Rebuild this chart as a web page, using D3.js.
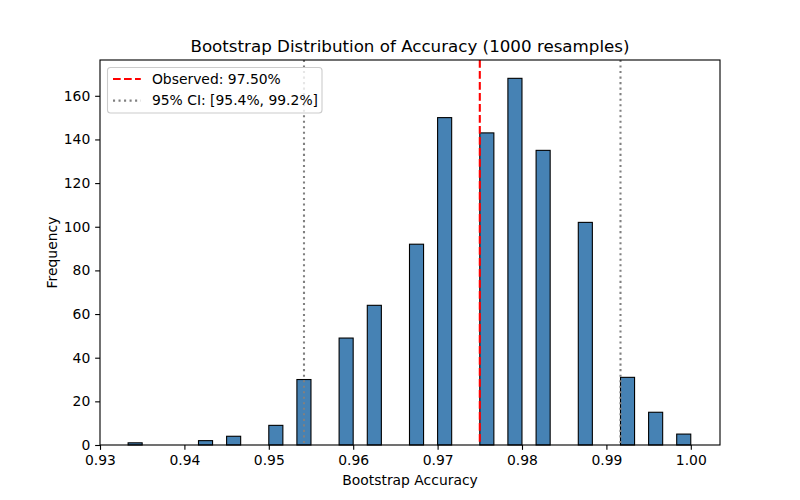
<!DOCTYPE html>
<html>
<head>
<meta charset="utf-8">
<script src="https://cdn.jsdelivr.net/npm/d3@7"></script>
<style>
  body { margin: 0; background: #fff; }
  text { font-family: "DejaVu Sans", sans-serif; fill: #000; }
</style>
</head>
<body>
<svg id="chart" width="800" height="500"></svg>
<script>
"use strict";

// histogram bins: left edge of each non-empty bin and its count
var binStarts = [0.93333, 0.94167, 0.94500, 0.95000, 0.95333, 0.95833, 0.96167, 0.96667,
  0.97000, 0.97500, 0.97833, 0.98167, 0.98667, 0.99167, 0.99500, 0.99833]
var binCounts = [1, 2, 4, 9, 30, 49, 64, 92, 150, 143, 168, 135, 102, 31, 15, 5]
var binWidth = 0.0016667

var observed = 0.975
var ciBounds = [0.95417, 0.99167]

var xTicks = [0.93, 0.94, 0.95, 0.96, 0.97, 0.98, 0.99, 1.00]
var yTicks = [0, 20, 40, 60, 80, 100, 120, 140, 160]

var legendLabels = ["Observed: 97.50%", "95% CI: [95.4%, 99.2%]"]

var svg = d3.select("#chart")
var margin = {left: 100, right: 80, top: 60, bottom: 55}
var width = 800 - margin.left - margin.right
var height = 500 - margin.top - margin.bottom

var x = d3.scaleLinear().domain([0.93, 1.00346]).range([0, width])
var y = d3.scaleLinear().domain([0, 176.4]).range([height, 0])

var g = svg.append("g")
  .attr("transform", "translate(" + margin.left + "," + margin.top + ")")

// bars
g.selectAll("rect.bar")
  .data(binStarts)
  .enter()
  .append("rect")
    .attr("class", "bar")
    .attr("x", function(d) { return x(d) })
    .attr("width", function(d) { return x(d + binWidth) - x(d) })
    .attr("y", function(d, i) { return y(binCounts[i]) })
    .attr("height", function(d, i) { return y(0) - y(binCounts[i]) })
    .style("fill", "#4682b4")
    .style("stroke", "#000")
    .style("stroke-width", 1.1)

// reference lines
g.append("line")
  .attr("x1", x(observed)).attr("x2", x(observed))
  .attr("y1", 0).attr("y2", height)
  .style("stroke", "red")
  .style("stroke-width", 2.08)
  .style("stroke-dasharray", "7.7,3.3")

g.selectAll("line.ci")
  .data(ciBounds)
  .enter()
  .append("line")
    .attr("class", "ci")
    .attr("x1", function(d) { return x(d) })
    .attr("x2", function(d) { return x(d) })
    .attr("y1", 0).attr("y2", height)
    .style("stroke", "gray")
    .style("stroke-width", 2.08)
    .style("stroke-dasharray", "2.08,3.44")

// axes
var xAxis = g.append("g")
  .attr("transform", "translate(0," + height + ")")
  .call(d3.axisBottom(x).tickValues(xTicks).tickFormat(d3.format(".2f"))
    .tickSize(4.86).tickPadding(4.86).tickSizeOuter(0))
var yAxis = g.append("g")
  .call(d3.axisLeft(y).tickValues(yTicks).tickSize(4.86).tickPadding(4.86).tickSizeOuter(0))

svg.selectAll(".tick text").style("font-size", "13.9px").style("font-family", "DejaVu Sans")
svg.selectAll(".tick line").style("stroke-width", 1.11)
svg.selectAll(".domain").remove()

// frame
g.append("rect")
  .attr("width", width).attr("height", height)
  .style("fill", "none")
  .style("stroke", "#000")
  .style("stroke-width", 1.11)

// labels
svg.append("text")
  .attr("x", margin.left + width / 2).attr("y", 52)
  .attr("text-anchor", "middle")
  .style("font-size", "16.7px")
  .text("Bootstrap Distribution of Accuracy (1000 resamples)")

svg.append("text")
  .attr("x", margin.left + width / 2).attr("y", 485)
  .attr("text-anchor", "middle")
  .style("font-size", "13.9px")
  .text("Bootstrap Accuracy")

svg.append("text")
  .attr("transform", "translate(57," + (margin.top + height / 2) + ") rotate(-90)")
  .attr("text-anchor", "middle")
  .style("font-size", "13.9px")
  .text("Frequency")

// legend
var legend = svg.append("g").attr("transform", "translate(107.5,67.5)")
legend.append("rect")
  .attr("width", 214.5).attr("height", 45.5)
  .attr("rx", 3).attr("ry", 3)
  .style("fill", "rgba(255,255,255,0.8)")
  .style("stroke", "#cccccc")
  .style("stroke-width", 1.1)

var entries = legend.selectAll("g.entry")
  .data(legendLabels)
  .enter()
  .append("g")
    .attr("class", "entry")
    .attr("transform", function(d, i) { return "translate(0," + (11.5 + i * 21.6) + ")" })

entries.append("line")
  .attr("x1", 5.5).attr("x2", 33.3)
  .style("stroke", function(d, i) { return i === 0 ? "red" : "gray" })
  .style("stroke-width", 2.08)
  .style("stroke-dasharray", function(d, i) { return i === 0 ? "7.7,3.3" : "2.08,3.44" })

entries.append("text")
  .attr("x", 44.4)
  .attr("dy", "0.35em")
  .style("font-size", "13.9px")
  .text(function(d) { return d })
</script>
</body>
</html>
